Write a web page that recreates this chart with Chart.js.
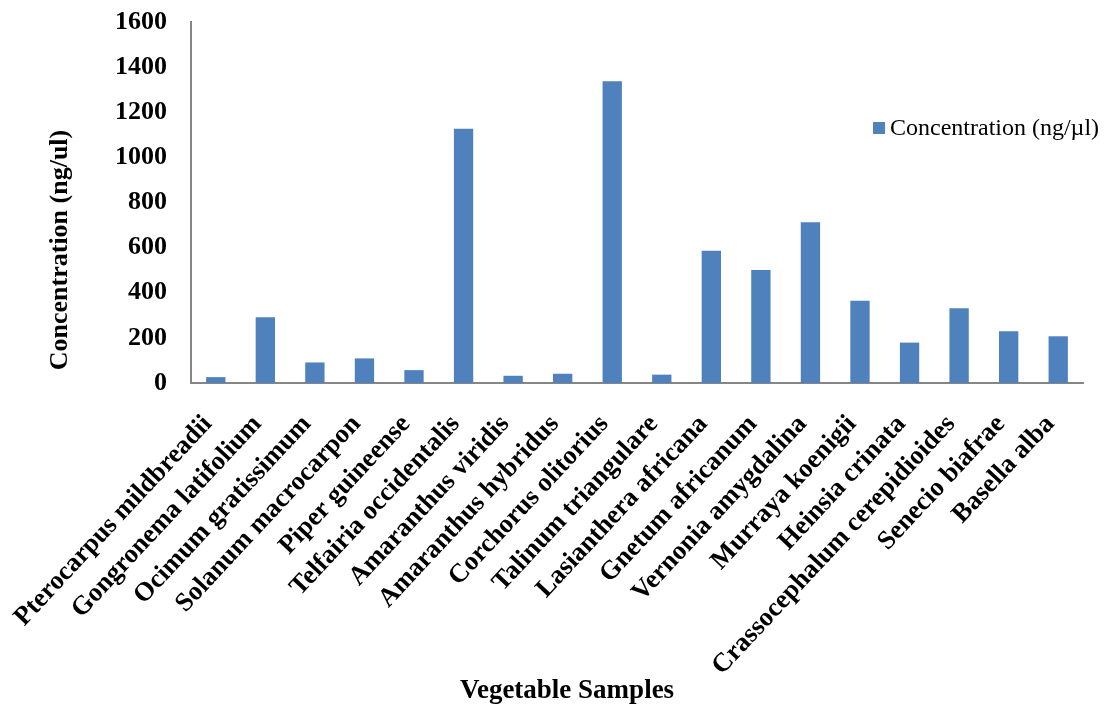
<!DOCTYPE html>
<html>
<head>
<meta charset="utf-8">
<title>Vegetable Samples - Concentration</title>
<script src="https://cdn.jsdelivr.net/npm/chart.js@4.4.0/dist/chart.umd.min.js"></script>
<style>
  html, body { margin: 0; padding: 0; background: #fff; }
  #wrap { width: 1111px; height: 707px; }
</style>
</head>
<body>
<div id="wrap"><canvas id="chart" width="1111" height="707"></canvas></div>
<script>
const categories = [
  'Pterocarpus mildbreadii', 'Gongronema latifolium', 'Ocimum gratissimum',
  'Solanum macrocarpon', 'Piper guineense', 'Telfairia occidentalis',
  'Amaranthus viridis', 'Amaranthus hybridus', 'Corchorus olitorius',
  'Talinum triangulare', 'Lasianthera africana', 'Gnetum africanum',
  'Vernonia amygdalina', 'Murraya koenigii', 'Heinsia crinata',
  'Crassocephalum cerepidioides', 'Senecio biafrae', 'Basella alba'
];
const concentration = [26, 291, 91, 109, 57, 1127, 32, 41, 1337, 37, 586, 501, 712, 364, 179, 331, 229, 207];
const seriesLabel = 'Concentration (ng/\u00b5l)';
const yTicks = { min: 0, max: 1600, step: 200 };
const xTitle = 'Vegetable Samples';
const yTitle = 'Concentration (ng/ul)';

const FONT = "'Liberation Serif', 'Times New Roman', serif";
const BAR_COLOR = '#4F81BD';
const AXIS_COLOR = '#868686';

// axis titles and legend are placed by hand like in the original figure
const decorPlugin = {
  id: 'decor',
  afterDraw(chart) {
    const ctx = chart.ctx;
    ctx.save();
    ctx.fillStyle = '#000';

    // y title
    ctx.font = 'bold 26px ' + FONT;
    ctx.textAlign = 'center';
    ctx.textBaseline = 'middle';
    ctx.translate(60, 250);
    ctx.rotate(-Math.PI / 2);
    ctx.fillText(yTitle, 0, 0);
    ctx.setTransform(1, 0, 0, 1, 0, 0);

    // x title
    ctx.font = 'bold 27px ' + FONT;
    ctx.textAlign = 'center';
    ctx.textBaseline = 'alphabetic';
    ctx.fillText(xTitle, 567, 698);

    // legend
    ctx.fillStyle = BAR_COLOR;
    ctx.fillRect(873, 122, 12, 12);
    ctx.fillStyle = '#000';
    ctx.font = '24px ' + FONT;
    ctx.textAlign = 'left';
    ctx.textBaseline = 'middle';
    ctx.fillText(seriesLabel, 890, 129);
    ctx.restore();
  }
};

function buildChart() {
  const ctx = document.getElementById('chart').getContext('2d');

  new Chart(ctx, {
    type: 'bar',
    data: {
      labels: categories,
      datasets: [{
        label: seriesLabel,
        data: concentration,
        backgroundColor: BAR_COLOR,
        borderWidth: 0,
        categoryPercentage: 1.0,
        barPercentage: 0.39,
      }],
    },
    options: {
      responsive: false,
      animation: false,
      devicePixelRatio: 1,
      layout: { padding: { left: 0, right: 28, top: 22, bottom: 0 } },
      plugins: {
        legend: { display: false },
        tooltip: { enabled: false },
      },
      scales: {
        x: {
          grid: { display: false, drawTicks: false },
          border: { display: true, color: AXIS_COLOR, width: 2 },
          ticks: {
            autoSkip: false,
            minRotation: 47,
            maxRotation: 47,
            padding: 26,
            labelOffset: -8,
            color: '#000',
            font: { family: FONT, size: 26.5, weight: 'bold' },
          },
          afterFit(scale) {
            // fixed label band, no overhang padding
            scale.height = 324;
            scale.paddingTop = 0;
            scale.paddingLeft = 0;
            scale.paddingRight = 0;
          },
        },
        y: {
          min: yTicks.min,
          max: yTicks.max,
          grid: { display: false, drawTicks: false },
          border: { display: true, color: AXIS_COLOR, width: 2 },
          ticks: {
            stepSize: yTicks.step,
            padding: 24,
            color: '#000',
            font: { family: FONT, size: 26, weight: 'bold' },
            callback: (value) => String(value),
          },
          afterFit(scale) {
            scale.width = 191;
            scale.paddingTop = 0;
            scale.paddingBottom = 0;
          },
        },
      },
    },
    plugins: [decorPlugin],
  });
}

buildChart();
</script>
</body>
</html>
